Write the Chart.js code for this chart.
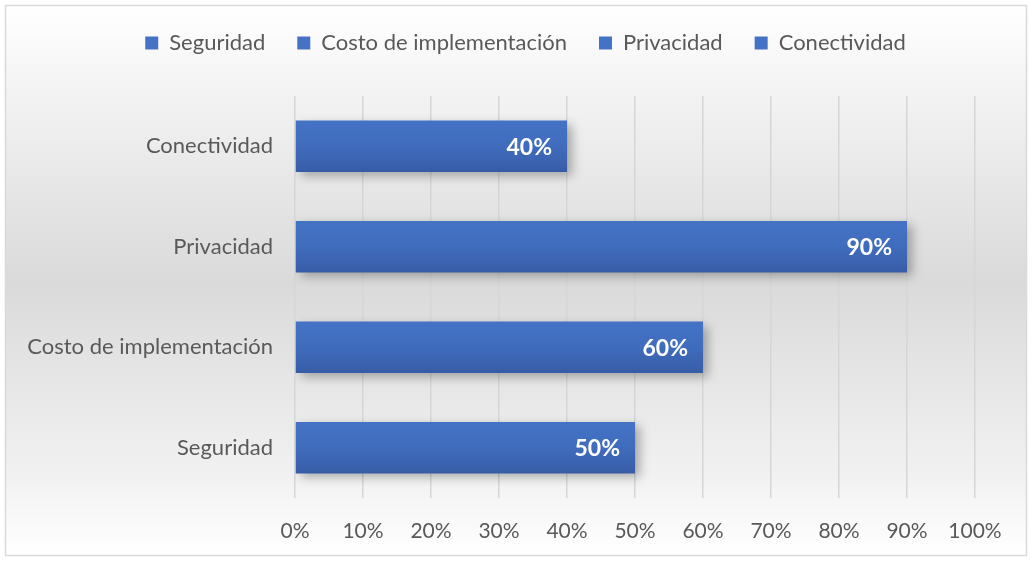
<!DOCTYPE html>
<html>
<head>
<meta charset="utf-8">
<script src="https://cdn.jsdelivr.net/npm/chart.js@4/dist/chart.umd.min.js"></script>
<style>
  html, body { margin: 0; padding: 0; background: #ffffff; }
  #wrap { width: 1033px; height: 562px; position: relative; }
</style>
</head>
<body>
<div id="wrap"><canvas id="c" width="1033" height="562"></canvas></div>
<script>
// Categories, top to bottom on the vertical axis
const categories = ['Conectividad', 'Privacidad', 'Costo de implementación', 'Seguridad'];
// Series, in legend order
const seriesNames = ['Seguridad', 'Costo de implementación', 'Privacidad', 'Conectividad'];
// Share (%) for each series
const seriesValues = [50, 60, 90, 40];
// Horizontal axis tick labels
const tickLabels = ['0%', '10%', '20%', '30%', '40%', '50%', '60%', '70%', '80%', '90%', '100%'];

const FONT = 'Lato, "Open Sans", sans-serif';
const BLUE = '#4472c4';

// Vertical blue gradient for each bar
function barFill(ctx) {
  const chart = ctx.chart;
  if (!chart.chartArea || !chart.scales.y) return BLUE;
  const yc = chart.scales.y.getPixelForValue(ctx.dataIndex);
  const g = chart.ctx.createLinearGradient(0, yc - 26, 0, yc + 26);
  g.addColorStop(0, '#4473c5');
  g.addColorStop(0.5, '#406cbd');
  g.addColorStop(1, '#375ca6');
  return g;
}

const datasets = seriesNames.map((name, i) => {
  const idx = categories.indexOf(name);
  const data = categories.map((_, j) => (j === idx ? seriesValues[i] : null));
  return {
    label: name,
    data: data,
    backgroundColor: barFill,
    borderWidth: 0,
    barPercentage: 1,
    categoryPercentage: 0.51
  };
});

// Soft grey gradient behind the whole chart, plus the thin frame
const backdrop = {
  id: 'backdrop',
  beforeDraw(chart) {
    const c = chart.ctx;
    c.save();
    const g = c.createLinearGradient(0, 5, 0, 556);
    g.addColorStop(0, '#ffffff');
    g.addColorStop(0.12, '#f6f6f6');
    g.addColorStop(0.5, '#dadada');
    g.addColorStop(0.85, '#f1f1f1');
    g.addColorStop(1, '#ffffff');
    c.fillStyle = g;
    c.fillRect(5, 5, 1022, 551);
    c.strokeStyle = '#d9d9d9';
    c.lineWidth = 1.5;
    c.strokeRect(5.5, 5.5, 1021, 550);
    c.restore();
  }
};

// Drop shadow under the bars
const barShadow = {
  id: 'barShadow',
  beforeDatasetsDraw(chart) {
    const c = chart.ctx;
    c.save();
    c.shadowColor = 'rgba(0,0,0,0.30)';
    c.shadowBlur = 10;
    c.shadowOffsetX = 5;
    c.shadowOffsetY = 4;
  },
  afterDatasetsDraw(chart) {
    chart.ctx.restore();
  }
};

// White value labels at the inner end of each bar
const valueLabels = {
  id: 'valueLabels',
  afterDatasetsDraw(chart) {
    const c = chart.ctx;
    c.save();
    c.font = 'bold 23px ' + FONT;
    c.fillStyle = '#ffffff';
    c.textAlign = 'right';
    c.textBaseline = 'middle';
    chart.data.datasets.forEach((ds, di) => {
      const meta = chart.getDatasetMeta(di);
      meta.data.forEach((bar, j) => {
        const v = ds.data[j];
        if (v === null || v === undefined) return;
        c.fillText(v + '%', bar.x - 15, bar.y + 1);
      });
    });
    c.restore();
  }
};

// Fixed legend band height, legend centred on the full frame width
const legendBand = {
  id: 'legendBand',
  beforeInit(chart) {
    const lg = chart.legend;
    if (!lg) return;
    const fit = lg.fit;
    lg.fit = function () {
      fit.call(this);
      this.height = 96;
    };
  },
  afterLayout(chart) {
    const lg = chart.legend;
    if (!lg) return;
    lg.left += 38;
    lg.right += 38;
  }
};

new Chart(document.getElementById('c'), {
  type: 'bar',
  data: { labels: categories, datasets: datasets },
  options: {
    responsive: false,
    animation: false,
    indexAxis: 'y',
    layout: { padding: { left: 0, right: 58, top: 0, bottom: 8 } },
    plugins: {
      legend: {
        position: 'top',
        labels: {
          font: { family: FONT, size: 22 },
          color: '#595959',
          boxWidth: 13,
          boxHeight: 13,
          padding: 32,
          generateLabels(chart) {
            return chart.data.datasets.map((ds, i) => ({
              text: ds.label,
              fillStyle: BLUE,
              strokeStyle: BLUE,
              lineWidth: 0,
              fontColor: '#595959',
              hidden: false,
              datasetIndex: i
            }));
          }
        }
      },
      tooltip: { enabled: false }
    },
    scales: {
      x: {
        stacked: true,
        min: 0,
        max: 100,
        afterFit(scale) { scale.height = 562 - 498 - 8; },
        ticks: {
          stepSize: 10,
          padding: 21,
          color: '#595959',
          font: { family: FONT, size: 21 },
          callback: (v, i) => tickLabels[i]
        },
        grid: { color: '#d6d6d6', lineWidth: 1.5, drawTicks: false },
        border: { display: false }
      },
      y: {
        stacked: true,
        afterFit(scale) { scale.width = 295; },
        ticks: {
          padding: 22,
          color: '#595959',
          font: { family: FONT, size: 22 }
        },
        grid: { display: false, drawTicks: false },
        border: { display: false }
      }
    }
  },
  plugins: [backdrop, legendBand, barShadow, valueLabels]
});
</script>
</body>
</html>
